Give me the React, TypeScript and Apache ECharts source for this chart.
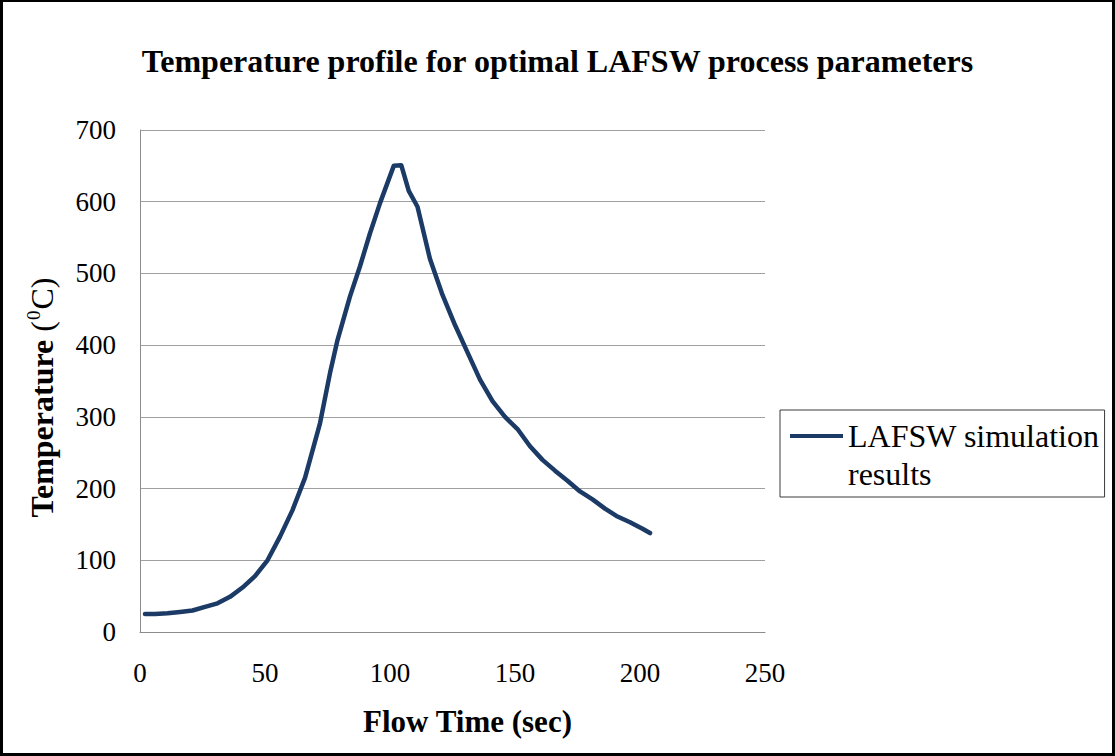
import React, { useEffect, useRef } from "react";
import * as echarts from "echarts";

const timeSec = [2, 6, 11, 16, 21, 26, 31, 36, 41, 46, 51, 56, 61, 66, 72, 76, 79, 84, 88, 92, 96, 101.5, 104.5, 107.5, 111, 116, 121, 126, 131, 136, 141, 146, 151, 156, 161, 166, 171, 176, 181, 186, 191, 196, 201, 204];
const temperature = [25, 25, 26, 28, 30, 35, 40, 49, 62, 78, 100, 133, 170, 215, 291, 361, 407, 468, 510, 556, 598, 650, 651, 615, 593, 520, 470, 428, 390, 352, 322, 300, 283, 259, 240, 225, 211, 196, 185, 172, 161, 153, 144, 138];
const seriesName = "LAFSW simulation results";
const titleText = "Temperature profile for optimal LAFSW process parameters";

const FONT = "Liberation Serif";

export default function App() {
  const ref = useRef<HTMLDivElement>(null);
  useEffect(() => {
    if (!ref.current) return;
    const chart = echarts.init(ref.current, undefined, { renderer: "svg" });
    const data = timeSec.map((t, i) => [t, temperature[i]]);
    chart.setOption({
      animation: false,
      backgroundColor: "#ffffff",
      textStyle: { fontFamily: FONT },
      title: {
        text: titleText,
        left: "center",
        top: 40,
        textStyle: { fontFamily: FONT, fontSize: 32, fontWeight: "bold", color: "#000" },
      },
      grid: { left: 140, top: 130, width: 625, height: 502, containLabel: false },
      legend: {
        left: 780,
        top: 410,
        orient: "vertical",
        padding: [7, 5, 4, 10],
        borderColor: "#3a3a3a",
        borderWidth: 1,
        itemWidth: 53,
        itemHeight: 76,
        icon: "path://M0,0L0,0M0,17L53,17L53,21L0,21ZM0,76L0,76",
        itemStyle: { borderWidth: 0 },
        formatter: () => "LAFSW simulation\nresults",
        textStyle: { fontFamily: FONT, fontSize: 32, fontWeight: "normal", color: "#000", lineHeight: 38 },
      },
      xAxis: {
        type: "value",
        min: 0,
        max: 250,
        interval: 50,
        name: "Flow Time (sec)",
        nameLocation: "middle",
        nameGap: 74,
        nameTextStyle: { fontFamily: FONT, fontSize: 31, fontWeight: "bold", color: "#000", padding: [0, 0, 0, 30] },
        axisLine: { show: true, lineStyle: { color: "#8c8c8c", width: 1 } },
        axisTick: { show: false },
        splitLine: { show: false },
        axisLabel: { fontFamily: FONT, fontSize: 27, fontWeight: "normal", color: "#000", margin: 27 },
      },
      yAxis: {
        type: "value",
        min: 0,
        max: 700,
        interval: 100,
        name: "{b|Temperature }{r|(}{s|0}{r|C)}",
        nameLocation: "middle",
        nameGap: 80,
        nameTextStyle: {
          fontFamily: FONT,
          fontSize: 32,
          fontWeight: "bold",
          color: "#000",
          padding: [0, 33, 0, 0],
          rich: {
            b: { fontFamily: FONT, fontSize: 32, fontWeight: "bold", color: "#000", lineHeight: 36 },
            r: { fontFamily: FONT, fontSize: 32, fontWeight: "normal", color: "#000", lineHeight: 36 },
            s: { fontFamily: FONT, fontSize: 19, fontWeight: "normal", color: "#000", verticalAlign: "top", lineHeight: 36, padding: [0, 1, 12, 1] },
          },
        },
        axisLine: { show: true, lineStyle: { color: "#8c8c8c", width: 1 } },
        axisTick: { show: false },
        splitLine: { show: true, lineStyle: { color: "#a0a0a0", width: 1 } },
        axisLabel: { fontFamily: FONT, fontSize: 27, fontWeight: "normal", color: "#000", margin: 24 },
      },
      series: [
        {
          name: seriesName,
          type: "line",
          data,
          symbol: "none",
          smooth: false,
          lineStyle: { color: "#1b3a65", width: 4.5, join: "round", cap: "round" },
          itemStyle: { color: "#1b3a65" },
        },
      ],
    });
    return () => chart.dispose();
  }, []);
  return (
    <div style={{ position: "absolute", left: 0, top: 0, width: 1115, height: 756 }}>
      <div ref={ref} style={{ width: 1115, height: 756 }} />
      <div
        style={{
          position: "absolute",
          left: 0,
          top: 0,
          width: 1115,
          height: 756,
          boxSizing: "border-box",
          borderLeft: "3px solid #000",
          borderTop: "2px solid #000",
          borderRight: "3px solid #000",
          borderBottom: "3px solid #000",
          pointerEvents: "none",
        }}
      />
    </div>
  );
}
